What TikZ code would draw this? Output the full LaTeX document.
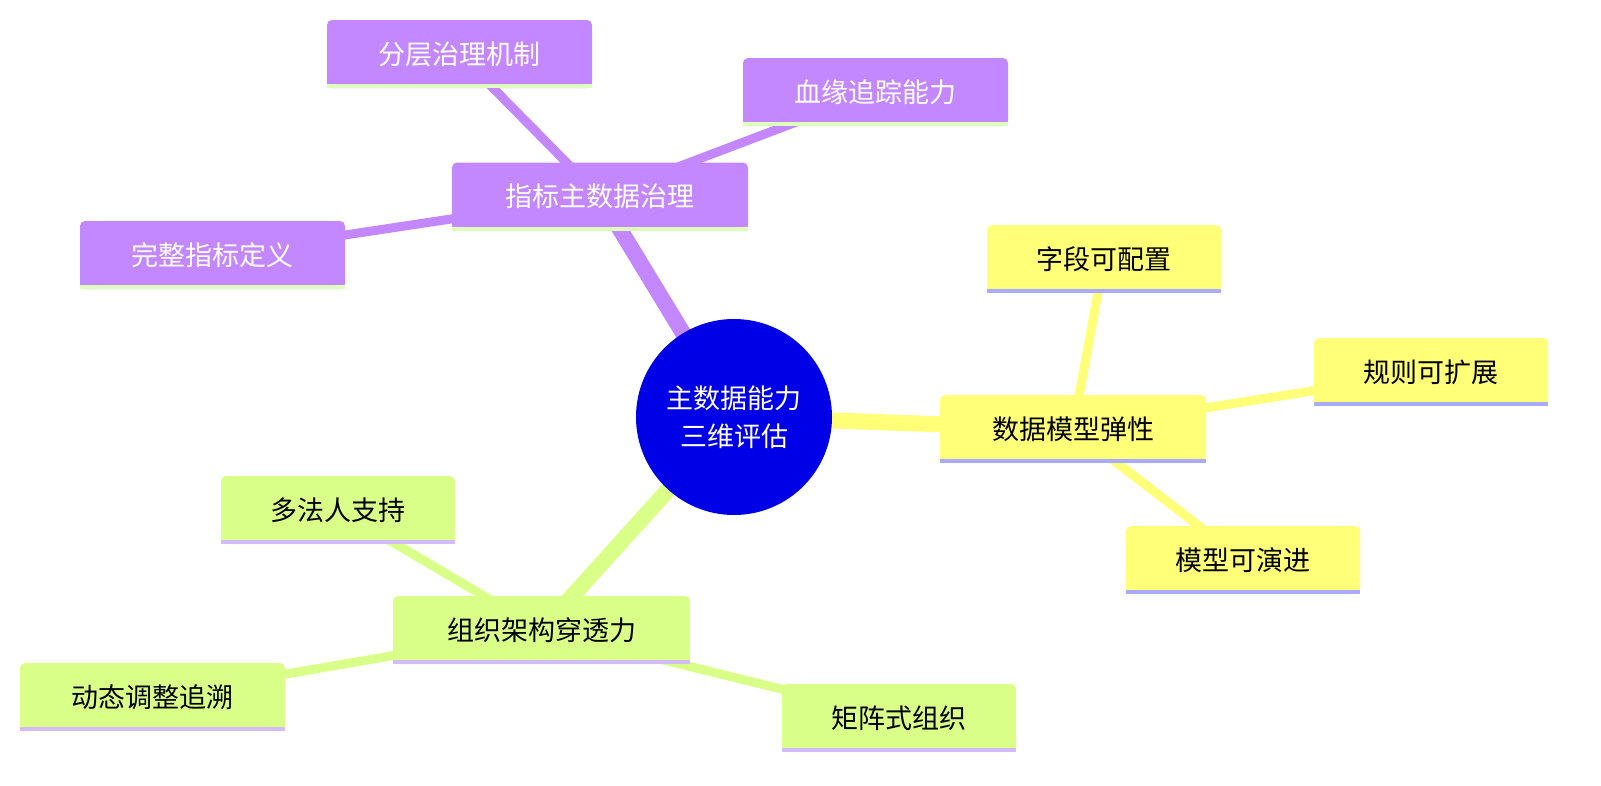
\documentclass[tikz,border=0pt]{standalone}
\usepackage{fontspec}
\setmainfont{Noto Sans CJK SC}
\definecolor{pur}{HTML}{C387FF}
\definecolor{yel}{HTML}{FFFF78}
\definecolor{grn}{HTML}{D9FF88}
\definecolor{rootc}{HTML}{0000E6}
\definecolor{lgrn}{HTML}{DDFFBB}
\definecolor{lblu}{HTML}{AAAAFF}
\definecolor{lpur}{HTML}{D4BBFF}
\begin{document}
\begin{tikzpicture}[x=1pt,y=-1pt,
  box/.style={rectangle,rounded corners=5pt,minimum height=68pt,inner sep=0pt,font=\fontsize{27}{32}\selectfont},
  pbox/.style={box,fill=pur,text=white},
  ybox/.style={box,fill=yel,text=black},
  gbox/.style={box,fill=grn,text=black},
  e/.style={line width=#1,line cap=round}]
\useasboundingbox (0,0) rectangle (1601,785);
\node[circle,fill=rootc,minimum size=196pt,text=white,align=center,font=\fontsize{27}{38}\selectfont] (r) at (734,417) {主数据能力\\三维评估};
\node[pbox,minimum width=296pt] (p) at (600,196.5) {指标主数据治理};
\node[pbox,minimum width=265pt] (p1) at (459.5,54) {分层治理机制};
\node[pbox,minimum width=265pt] (p2) at (875.5,92) {血缘追踪能力};
\node[pbox,minimum width=265pt] (p3) at (212.5,255) {完整指标定义};
\node[ybox,minimum width=266pt] (y) at (1073,429) {数据模型弹性};
\node[ybox,minimum width=234pt] (y1) at (1104,259) {字段可配置};
\node[ybox,minimum width=234pt] (y2) at (1431,372) {规则可扩展};
\node[ybox,minimum width=234pt] (y3) at (1243,560) {模型可演进};
\node[gbox,minimum width=297pt] (g) at (541.5,630) {组织架构穿透力};
\node[gbox,minimum width=234pt] (g1) at (338,510) {多法人支持};
\node[gbox,minimum width=265pt] (g2) at (152.5,697) {动态调整追溯};
\node[gbox,minimum width=234pt] (g3) at (899,718) {矩阵式组织};
\begin{scope}[on background layer/.try]
\end{scope}
\begin{pgfinterruptboundingbox}
\begin{scope}[overlay]
\end{scope}
\end{pgfinterruptboundingbox}
% edges (drawn then nodes redrawn on top via layers)
\pgfdeclarelayer{bg}\pgfsetlayers{bg,main}
\begin{pgfonlayer}{bg}
\draw[e=16pt,pur] (r.center) -- (p.center);
\draw[e=9pt,pur] (p.center) -- (p1.center);
\draw[e=9pt,pur] (p.center) -- (p2.center);
\draw[e=9pt,pur] (p.center) -- (p3.center);
\draw[e=16pt,yel] (r.center) -- (y.center);
\draw[e=9pt,yel] (y.center) -- (y1.center);
\draw[e=9pt,yel] (y.center) -- (y2.center);
\draw[e=9pt,yel] (y.center) -- (y3.center);
\draw[e=16pt,grn] (r.center) -- (g.center);
\draw[e=9pt,grn] (g.center) -- (g1.center);
\draw[e=9pt,grn] (g.center) -- (g2.center);
\draw[e=9pt,grn] (g.center) -- (g3.center);
\end{pgfonlayer}
\foreach \n in {p,p1,p2,p3} \draw[lgrn,line width=4pt] ([yshift=2pt]\n.south west) -- ([yshift=2pt]\n.south east);
\foreach \n in {y,y1,y2,y3} \draw[lblu,line width=4pt] ([yshift=2pt]\n.south west) -- ([yshift=2pt]\n.south east);
\foreach \n in {g,g1,g2,g3} \draw[lpur,line width=4pt] ([yshift=2pt]\n.south west) -- ([yshift=2pt]\n.south east);
\end{tikzpicture}
\end{document}
